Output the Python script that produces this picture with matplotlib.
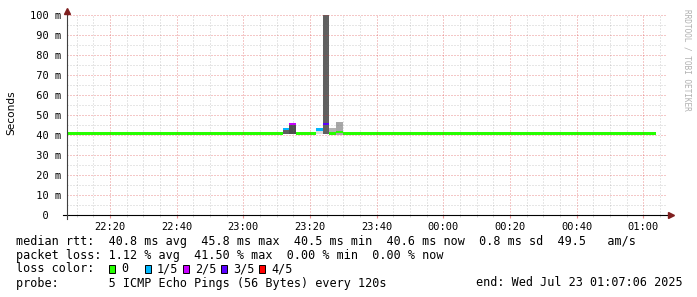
import matplotlib
matplotlib.use("Agg")
import matplotlib.pyplot as plt
from matplotlib.patches import Rectangle

W, H = 697, 297
MONO = "DejaVu Sans Mono"

# time axis: minutes after 22:00
x_ticks = [20, 40, 60, 80, 100, 120, 140, 160, 180]
x_labels = ["22:20", "22:40", "23:00", "23:20", "23:40",
            "00:00", "00:20", "00:40", "01:00"]
x_minor = [m for m in range(10, 190, 5) if m % 20]
y_ticks = [0, 10, 20, 30, 40, 50, 60, 70, 80, 90, 100]
y_labels = ["  0", " 10 m", " 20 m", " 30 m", " 40 m", " 50 m",
            " 60 m", " 70 m", " 80 m", " 90 m", "100 m"]
y_minor = [5, 15, 25, 35, 45, 55, 65, 75, 85, 95]
t_start, t_end = 7.1, 187.1

# stretches with no loss and flat median (ms)
calm_from = [7.1, 75.8, 89.8]
calm_to = [71.8, 81.8, 183.8]
calm_median = 40.8

# the 2-minute steps around 23:12 - 23:30
step_start = [71.8, 73.8, 81.8, 83.8, 85.8, 87.8]
step_median = [42.9, 45.4, 42.8, 45.4, 40.8, 41.6]
step_loss = [1, 2, 1, 3, 0, 0]
smoke_lo = [40.3, 40.4, 40.5, 40.4, 40.1, 40.1]
smoke_hi = [42.9, 45.4, 42.8, 100.0, 43.6, 46.6]
smoke_shade = ["#5e5e5e", "#4e4e4e", "#dedede", "#606060", "#b4b4b4", "#a8a8a8"]

loss_names = ["0", "1/5", "2/5", "3/5", "4/5"]
loss_colors = ["#26ff00", "#00b8ff", "#c800ff", "#5a00ff", "#ff0000"]


def fx(px):
    return px / W


def fy(py):
    return 1 - py / H


fig = plt.figure(figsize=(W / 100, H / 100), dpi=100)
ax = fig.add_axes([fx(67), fy(215), 600 / W, 200 / H])
ax.set_xlim(t_start, t_end)
ax.set_ylim(0, 100)

# smoke
ax.bar(step_start, [h - l for l, h in zip(smoke_lo, smoke_hi)], width=2,
       bottom=smoke_lo, align="edge", color=smoke_shade, linewidth=0, zorder=1)
# median bands
half = 0.6
for a, b in zip(calm_from, calm_to):
    ax.fill_between([a, b], calm_median - half, calm_median + half,
                    color=loss_colors[0], linewidth=0, zorder=3)
ax.bar(step_start, 2 * half, width=2, bottom=[m - half for m in step_median],
       align="edge", color=[loss_colors[l] for l in step_loss],
       linewidth=0, zorder=3)

# dotted grid drawn over the data (semi transparent), as rrdtool does
mgrid = (0.85, 0.2, 0.2, 0.55)
grid = (0.45, 0.45, 0.45, 0.35)
dots = (0, (1, 2))
for m in x_minor:
    ax.axvline(m, color=grid, linestyle=dots, linewidth=0.72, snap=True, zorder=5)
for v in y_minor:
    ax.axhline(v, color=grid, linestyle=dots, linewidth=0.72, snap=True, zorder=5)
for m in x_ticks:
    ax.axvline(m, color=mgrid, linestyle=dots, linewidth=0.72, snap=True, zorder=6)
for v in y_ticks[1:]:
    ax.axhline(v, color=mgrid, linestyle=dots, linewidth=0.72, snap=True, zorder=6)

ax.set_xticks(x_ticks, x_labels)
ax.set_xticks(x_minor, minor=True)
ax.set_yticks(y_ticks, y_labels)

for s in ax.spines.values():
    s.set_visible(False)
ax.tick_params(axis="x", which="major", length=2.2, color=mgrid, pad=3.2,
               labelsize=7.5)
ax.tick_params(axis="x", which="minor", length=1.5, color=grid)
ax.tick_params(axis="y", which="both", length=0, pad=26.6, labelsize=7.5)
for lab in ax.get_xticklabels() + ax.get_yticklabels():
    lab.set_family(MONO)
for lab in ax.get_yticklabels():
    lab.set_horizontalalignment("left")

# axes with arrows
ax.plot([-4 / 600, 602 / 600], [0, 0], color="black", linewidth=0.8,
        transform=ax.transAxes, clip_on=False, zorder=7)
ax.plot([0, 0], [-4 / 200, 1 + 3 / 200], color="#404040", linewidth=0.8,
        transform=ax.transAxes, clip_on=False, zorder=7)
ax.plot([1 + 4 / 600], [0], marker=">", markersize=4, color="#7f1f1f",
        transform=ax.transAxes, clip_on=False, zorder=8)
ax.plot([0], [1 + 4 / 200], marker="^", markersize=4, color="#7f1f1f",
        transform=ax.transAxes, clip_on=False, zorder=8)

fig.text(fx(11), fy(113), "Seconds", rotation=90, ha="center", va="center",
         fontsize=7.6, family="DejaVu Sans")
fig.text(fx(687), fy(60), "RRDTOOL / TOBI OETIKER", rotation=270,
         ha="center", va="center", fontsize=5.6, family=MONO, color="#b0b0b0")

# legend lines
lsize = 8.5
fig.text(fx(16), fy(241), "median rtt:  40.8 ms avg  45.8 ms max  40.5 ms min  "
         "40.6 ms now  0.8 ms sd  49.5   am/s", fontsize=lsize, family=MONO,
         va="center")
fig.text(fx(16), fy(255), "packet loss: 1.12 % avg  41.50 % max  0.00 % min  "
         "0.00 % now", fontsize=lsize, family=MONO, va="center")
fig.text(fx(16), fy(269), "loss color:", fontsize=lsize, family=MONO, va="center")
box_x = [109, 145, 183, 221, 259]
for bx, name, col in zip(box_x, loss_names, loss_colors):
    fig.patches.append(Rectangle((fx(bx), fy(273)), 6 / W, 8 / H, facecolor=col,
                                 edgecolor="black", linewidth=0.7,
                                 transform=fig.transFigure, figure=fig))
    fig.text(fx(bx + 12), fy(269), name, fontsize=lsize, family=MONO, va="center")
fig.text(fx(16), fy(283), "probe:       5 ICMP Echo Pings (56 Bytes) every 120s",
         fontsize=lsize, family=MONO, va="center")
fig.text(fx(476), fy(283), "end: Wed Jul 23 01:07:06 2025", fontsize=lsize,
         family=MONO, va="center")

fig.savefig("out.png", dpi=100)
